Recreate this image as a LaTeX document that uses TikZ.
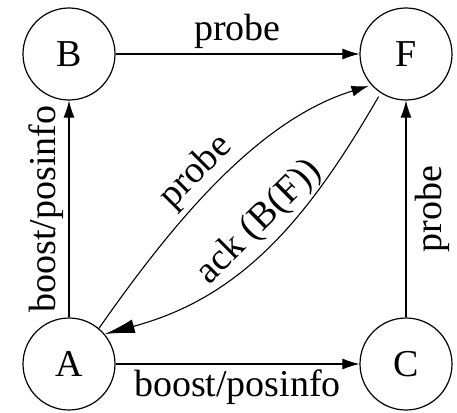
\documentclass[tikz,border=0pt]{standalone}
\usepackage{fontspec}
\setmainfont{Liberation Serif}
\usetikzlibrary{arrows.meta}
\begin{document}
\begin{tikzpicture}[x=1pt,y=-1pt,
  state/.style={circle,draw,line width=1.2pt,minimum size=92pt,inner sep=0pt,
    font=\fontsize{38}{40}\selectfont},
  link/.style={line width=1.1pt,-{Latex[length=17pt,width=11pt]}},
  biglink/.style={line width=1.1pt,-{Latex[length=30pt,width=14pt]}},
  lbl/.style={font=\fontsize{38}{42}\selectfont,inner sep=5pt}]
\useasboundingbox (0,0) rectangle (457,412);
% stations
\node[state] (B) at (69,54)   {B};
\node[state] (F) at (406,54)  {F};
\node[state] (A) at (69,364)  {A};
\node[state] (C) at (406,364) {C};
% messages
\draw[link] (B) -- node[lbl,above] {probe} (F);
\draw[link] (A) -- node[lbl,sloped,above] {boost/posinfo} (B);
\draw[link] (C) -- node[lbl,sloped,below,inner sep=9pt] {probe} (F);
\draw[link] (A) -- node[lbl,below] {boost/posinfo} (C);
\draw[link,shorten >=3pt] (A.50) to[out=55,in=197,looseness=0.85]
  node[lbl,sloped,above,pos=0.48] {probe} (F.222);
\draw[biglink,shorten <=4pt] (F.237) to[out=240,in=15]
  node[lbl,sloped,above,pos=0.47] {ack (B(F))} (A.40);
\end{tikzpicture}
\end{document}
